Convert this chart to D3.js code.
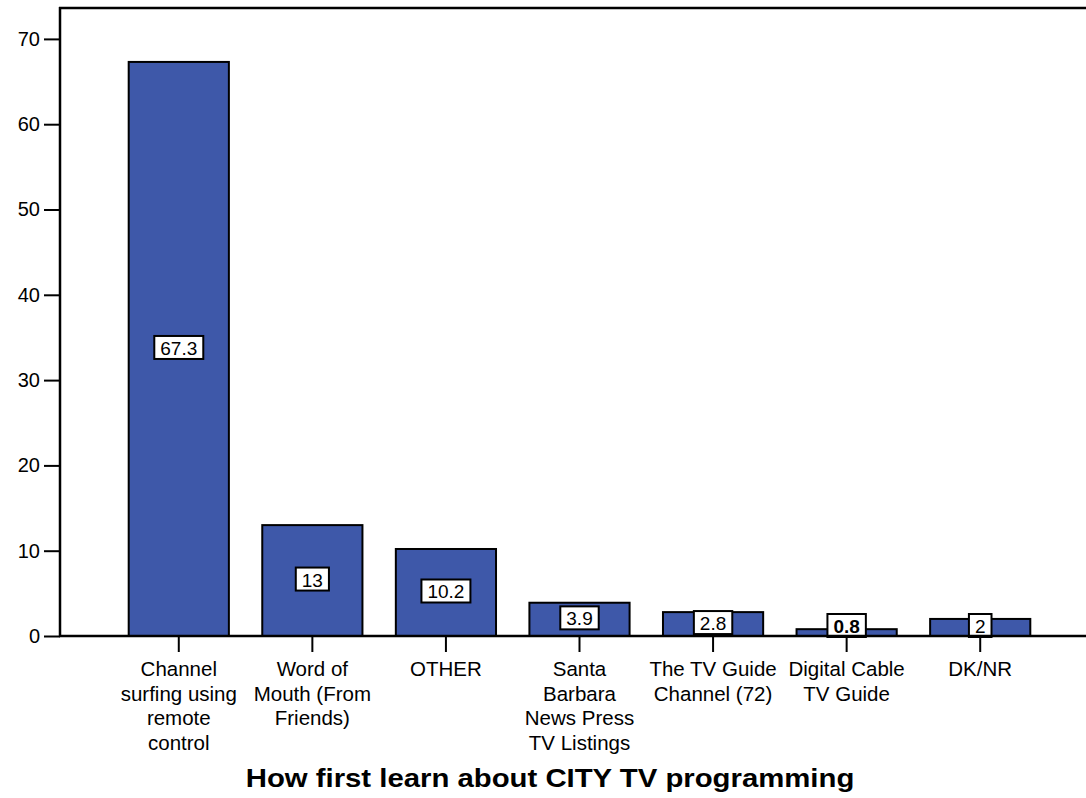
<!DOCTYPE html>
<html>
<head>
<meta charset="utf-8">
<script src="https://cdn.jsdelivr.net/npm/d3@7"></script>
<style>
  html, body { margin: 0; padding: 0; background: #fff; }
  svg { display: block; font-family: "Liberation Sans", Arial, sans-serif; }
</style>
</head>
<body>
<svg id="chart" width="1086" height="798"></svg>
<script>
const categories = [
  "Channel\nsurfing using\nremote\ncontrol",
  "Word of\nMouth (From\nFriends)",
  "OTHER",
  "Santa\nBarbara\nNews Press\nTV Listings",
  "The TV Guide\nChannel (72)",
  "Digital Cable\nTV Guide",
  "DK/NR"
];
const values = [67.3, 13, 10.2, 3.9, 2.8, 0.8, 2];
const valueLabels = ["67.3", "13", "10.2", "3.9", "2.8", "0.8", "2"];
const yTicks = [0, 10, 20, 30, 40, 50, 60, 70];
const xTitle = "How first learn about CITY TV programming";

(function () {
const svg = d3.select("#chart");
const W = 1086;
const mLeft = 60, mTop = 8, mBottom = 636;

const x = d3.scaleBand().domain(d3.range(categories.length)).range([112, 1047]).paddingInner(0.25).paddingOuter(0.125);
const y = d3.scaleLinear().domain([0, 70]).range([mBottom, mBottom - 70 * 8.53]);

// Bars
svg.append("g").selectAll("rect").data(values).join("rect")
  .attr("x", (d, i) => x(i))
  .attr("y", d => y(d))
  .attr("width", x.bandwidth())
  .attr("height", d => y(0) - y(d))
  .attr("fill", "#3e58a9")
  .attr("stroke", "#000")
  .attr("stroke-width", 2);

// Value label boxes
const lab = svg.append("g");
values.forEach((v, i) => {
  const cx = x(i) + x.bandwidth() / 2;
  const bh = 23;
  let cy = y(v / 2) - 1.5;
  cy = Math.min(cy, mBottom + 1 - bh / 2);
  const g = lab.append("g");
  const t = g.append("text")
    .attr("x", cx).attr("y", cy + 1)
    .attr("text-anchor", "middle")
    .attr("dominant-baseline", "central")
    .attr("font-size", 19)
    .attr("fill", "#000")
    .attr("font-weight", valueLabels[i] === "0.8" ? "bold" : "normal")
    .text(valueLabels[i]);
  const bw = t.node().getComputedTextLength() + 12;
  g.insert("rect", "text")
    .attr("x", cx - bw / 2).attr("y", cy - bh / 2)
    .attr("width", bw).attr("height", bh)
    .attr("fill", "#fff").attr("stroke", "#000").attr("stroke-width", 2);
});

// Y axis
const yAxis = d3.axisLeft(y).tickValues(yTicks).tickSize(16).tickPadding(4).tickFormat(d3.format("d"));
const ya = svg.append("g").attr("transform", `translate(${mLeft},0)`).call(yAxis);
ya.select(".domain").remove();
ya.selectAll(".tick line").attr("stroke", "#000").attr("stroke-width", 2);
ya.selectAll(".tick text").attr("font-size", 20).attr("fill", "#000").attr("font-family", "Liberation Sans, Arial, sans-serif");

// Frame lines
svg.append("line").attr("x1", mLeft).attr("x2", mLeft).attr("y1", mTop - 1).attr("y2", mBottom + 1).attr("stroke", "#000").attr("stroke-width", 2.5);
svg.append("line").attr("x1", mLeft - 1).attr("x2", W).attr("y1", mTop).attr("y2", mTop).attr("stroke", "#000").attr("stroke-width", 2.5);

// X axis
const xAxis = d3.axisBottom(x).tickSize(16).tickFormat("");
const xa = svg.append("g").attr("transform", `translate(0,${mBottom})`).call(xAxis);
xa.select(".domain").remove();
xa.selectAll(".tick line").attr("stroke", "#000").attr("stroke-width", 2);
svg.append("line").attr("x1", mLeft - 1).attr("x2", W).attr("y1", mBottom).attr("y2", mBottom).attr("stroke", "#000").attr("stroke-width", 2.5);

// Category labels
const cl = svg.append("g");
categories.forEach((c, i) => {
  const cx = x(i) + x.bandwidth() / 2;
  const t = cl.append("text").attr("text-anchor", "middle").attr("font-size", 20.5).attr("fill", "#000");
  c.split("\n").forEach((line, j) => {
    t.append("tspan").attr("x", cx).attr("y", 676 + j * 24.5).text(line);
  });
});

// Title
svg.append("text").attr("transform", "translate(550,787) scale(1.15,1)").attr("text-anchor", "middle")
  .attr("font-size", 25.5).attr("font-weight", "bold").attr("fill", "#000").text(xTitle);
})();
</script>
</body>
</html>
